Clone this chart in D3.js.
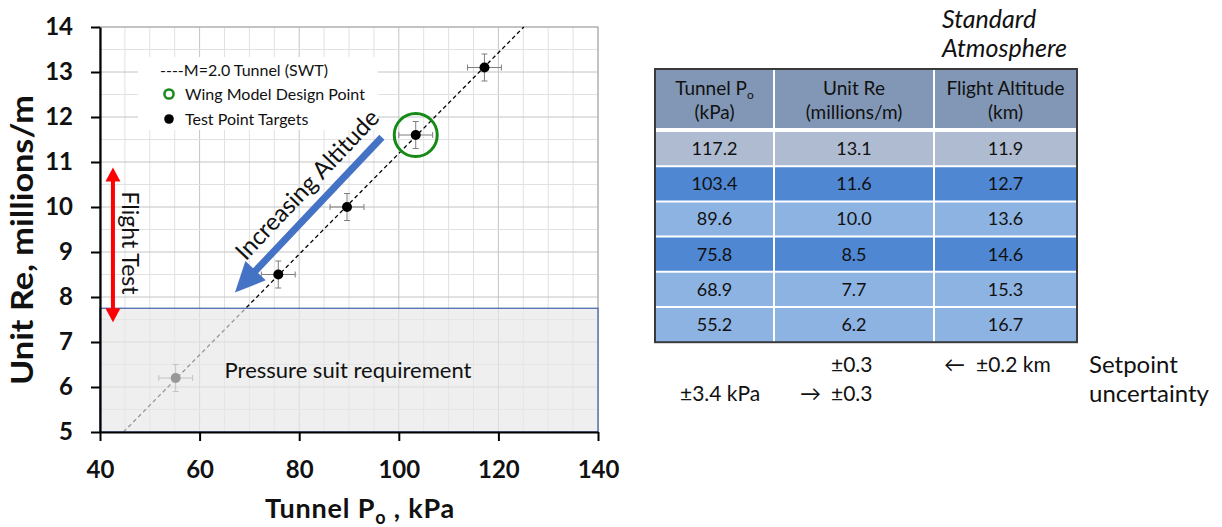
<!DOCTYPE html>
<html>
<head>
<meta charset="utf-8">
<script src="https://cdn.jsdelivr.net/npm/d3@7"></script>
<style>
  html, body { margin: 0; padding: 0; background: #fff; }
  svg { display: block; font-family: Lato, "Open Sans", sans-serif; }
</style>
</head>
<body>
<svg id="chart" width="1222" height="527"></svg>
<script>
// ---- Test matrix (table rows, top to bottom) ----
const tunnelP   = [117.2, 103.4, 89.6, 75.8, 68.9, 55.2];   // kPa
const unitRe    = [13.1, 11.6, 10.0, 8.5, 7.7, 6.2];        // millions/m
const altitude  = [11.9, 12.7, 13.6, 14.6, 15.3, 16.7];     // km
// rows shown as markers on the chart
const plottedRows = [0, 1, 2, 3, 5];
// wing model design point (row index)
const designRow = 1;

// setpoint uncertainty
const errP = 3.4;      // kPa
const errRe = 0.3;     // millions/m
const errAlt = 0.2;    // km

// M=2.0 tunnel operating line (end points, kPa / millions/m)
const tunnelLineP  = [44.7, 125.1];
const tunnelLineRe = [5.0, 14.0];

// pressure suit band (millions/m)
const suitRe = [5.0, 7.75];

// axis ticks
const pTicks  = [40, 60, 80, 100, 120, 140];
const reTicks = [5, 6, 7, 8, 9, 10, 11, 12, 13, 14];
const pMinor  = d3.range(40, 140.1, 5);
const reMinor = d3.range(5, 14.01, 0.5);

// annotation anchors in data units
const altArrow    = { from: [96.6, 11.55], to: [67.1, 8.1] };
const flightArrow = { p: 42.6, re: [10.88, 7.44] };

// table text
const headers = [["Tunnel P", "(kPa)"], ["Unit Re", "(millions/m)"], ["Flight Altitude", "(km)"]];
const rowFills = ["#aebbd0", "#4f87d2", "#8db3e3", "#4f87d2", "#8db3e3", "#8db3e3"];

const svg = d3.select("#chart");

const x = d3.scaleLinear().domain([40, 140]).range([100, 598]);
const y = d3.scaleLinear().domain([5, 14]).range([432, 27]);

const plot = svg.append("g");

// grid
plot.append("g").selectAll("line.vm").data(pMinor).join("line")
  .attr("x1", d => x(d)).attr("x2", d => x(d)).attr("y1", y(5)).attr("y2", y(14))
  .attr("stroke", d => d % 20 === 0 ? "#c4c4c4" : "#e1e1e1").attr("stroke-width", 1);
plot.append("g").selectAll("line.hm").data(reMinor).join("line")
  .attr("y1", d => y(d)).attr("y2", d => y(d)).attr("x1", x(40)).attr("x2", x(140))
  .attr("stroke", d => d % 1 === 0 ? "#c4c4c4" : "#e1e1e1").attr("stroke-width", 1);

// plot frame (top / right)
plot.append("rect").attr("x", x(40)).attr("y", y(14)).attr("width", x(140) - x(40)).attr("height", y(5) - y(14))
  .attr("fill", "none").attr("stroke", "#a6a6a6").attr("stroke-width", 1);

// legend background
const lg = plot.append("g");
lg.append("rect").attr("x", 138).attr("y", 57).attr("width", 240).attr("height", 73).attr("fill", "#fff");

// tunnel operating line
plot.append("line")
  .attr("x1", x(tunnelLineP[0])).attr("y1", y(tunnelLineRe[0]))
  .attr("x2", x(tunnelLineP[1])).attr("y2", y(tunnelLineRe[1]))
  .attr("stroke", "#000").attr("stroke-width", 1.3).attr("stroke-dasharray", "4,3");

// error bars + markers
const pts = plottedRows.map(i => ({ p: tunnelP[i], re: unitRe[i] }));
const eb = plot.append("g").attr("stroke", "#7f7f7f").attr("stroke-width", 1);
pts.forEach(d => {
  eb.append("line").attr("x1", x(d.p - errP)).attr("x2", x(d.p + errP)).attr("y1", y(d.re)).attr("y2", y(d.re));
  eb.append("line").attr("y1", y(d.re - errRe)).attr("y2", y(d.re + errRe)).attr("x1", x(d.p)).attr("x2", x(d.p));
  [d.p - errP, d.p + errP].forEach(v => eb.append("line").attr("x1", x(v)).attr("x2", x(v)).attr("y1", y(d.re) - 3).attr("y2", y(d.re) + 3));
  [d.re - errRe, d.re + errRe].forEach(v => eb.append("line").attr("y1", y(v)).attr("y2", y(v)).attr("x1", x(d.p) - 3).attr("x2", x(d.p) + 3));
});
plot.append("g").selectAll("circle").data(pts).join("circle")
  .attr("cx", d => x(d.p)).attr("cy", d => y(d.re)).attr("r", 5).attr("fill", "#000");

// design point ring
plot.append("circle").attr("cx", x(tunnelP[designRow])).attr("cy", y(unitRe[designRow])).attr("r", 21.5)
  .attr("fill", "none").attr("stroke", "#168a16").attr("stroke-width", 3);

// pressure suit band (translucent, greys out what lies beneath)
plot.append("rect")
  .attr("x", x(40)).attr("y", y(suitRe[1])).attr("width", x(140) - x(40)).attr("height", y(suitRe[0]) - y(suitRe[1]))
  .attr("fill", "rgb(231,231,231)").attr("fill-opacity", 0.66);
plot.append("rect")
  .attr("x", x(40)).attr("y", y(suitRe[1])).attr("width", x(140) - x(40)).attr("height", y(suitRe[0]) - y(suitRe[1]))
  .attr("fill", "none").attr("stroke", "#3f62aa").attr("stroke-width", 1.2);
plot.append("text").attr("x", x(89.8)).attr("y", y(6.38)).attr("dy", "0.35em")
  .attr("text-anchor", "middle").attr("font-size", 22).attr("fill", "#111").text("Pressure suit requirement");

// legend entries
lg.append("text").attr("x", 160).attr("y", 70).attr("dy", "0.35em").attr("font-size", 16).attr("fill", "#111")
  .text("----M=2.0 Tunnel (SWT)");
lg.append("circle").attr("cx", 169).attr("cy", 94).attr("r", 4.6).attr("fill", "none").attr("stroke", "#168a16").attr("stroke-width", 2.5);
lg.append("text").attr("x", 185).attr("y", 94).attr("dy", "0.35em").attr("font-size", 16).attr("fill", "#111")
  .text("Wing Model Design Point");
lg.append("circle").attr("cx", 169).attr("cy", 119).attr("r", 4.8).attr("fill", "#000");
lg.append("text").attr("x", 185).attr("y", 119).attr("dy", "0.35em").attr("font-size", 16).attr("fill", "#111")
  .text("Test Point Targets");

// increasing-altitude arrow
{
  const x1 = x(altArrow.from[0]), y1 = y(altArrow.from[1]);
  const x2 = x(altArrow.to[0]), y2 = y(altArrow.to[1]);
  const ang = Math.atan2(y2 - y1, x2 - x1);
  const headL = 30, headW = 14;
  const bx = x2 - headL * Math.cos(ang), by = y2 - headL * Math.sin(ang);
  const nx = -Math.sin(ang), ny = Math.cos(ang);
  plot.append("line").attr("x1", x1).attr("y1", y1).attr("x2", bx + 2 * Math.cos(ang)).attr("y2", by + 2 * Math.sin(ang))
    .attr("stroke", "#4472c4").attr("stroke-width", 7);
  plot.append("path")
    .attr("d", `M${x2},${y2}L${bx + nx * headW},${by + ny * headW}L${bx - nx * headW},${by - ny * headW}Z`)
    .attr("fill", "#4472c4");
  const deg = Math.atan2(y1 - y2, x1 - x2) * 180 / Math.PI;
  plot.append("text")
    .attr("transform", `translate(${x(81.6)},${y(10.5)}) rotate(${deg})`)
    .attr("text-anchor", "middle").attr("dy", "0.35em").attr("font-size", 24).attr("fill", "#111")
    .text("Increasing Altitude");
}

// flight test double arrow
{
  const ax = x(flightArrow.p), yt = y(flightArrow.re[0]), yb = y(flightArrow.re[1]);
  const hl = 14, hw = 7.5;
  plot.append("line").attr("x1", ax).attr("x2", ax).attr("y1", yt + hl - 1).attr("y2", yb - hl + 1)
    .attr("stroke", "#ff0000").attr("stroke-width", 4);
  plot.append("path").attr("d", `M${ax},${yt}L${ax - hw},${yt + hl}L${ax + hw},${yt + hl}Z`).attr("fill", "#ff0000");
  plot.append("path").attr("d", `M${ax},${yb}L${ax - hw},${yb - hl}L${ax + hw},${yb - hl}Z`).attr("fill", "#ff0000");
  plot.append("text").attr("transform", `translate(${x(46.1)},${y(9.2)}) rotate(90)`)
    .attr("text-anchor", "middle").attr("dy", "0.35em").attr("font-size", 23).attr("fill", "#111")
    .text("Flight Test");
}

// axes
const xAxis = svg.append("g").attr("transform", `translate(0,${y(5)})`)
  .call(d3.axisBottom(x).tickValues(pTicks).tickSize(9).tickPadding(20).tickSizeOuter(0));
const yAxis = svg.append("g").attr("transform", `translate(${x(40)},0)`)
  .call(d3.axisLeft(y).tickValues(reTicks).tickSize(9).tickPadding(18).tickSizeOuter(0));
[xAxis, yAxis].forEach(g => {
  g.select(".domain").attr("stroke", "#000").attr("stroke-width", 2.2);
  g.selectAll(".tick line").attr("stroke", "#000").attr("stroke-width", 2);
  g.selectAll(".tick text").attr("font-family", "Lato, sans-serif").attr("font-size", 24)
    .attr("font-weight", 700).attr("fill", "#111");
});

// axis titles
const xt = svg.append("text").attr("x", 360).attr("y", 518).attr("text-anchor", "middle")
  .attr("font-size", 27).attr("font-weight", 700).attr("letter-spacing", 0.8).attr("fill", "#111");
xt.append("tspan").text("Tunnel P");
xt.append("tspan").attr("font-size", 18).attr("dy", 6).text("o");
xt.append("tspan").attr("dy", -6).text(" , kPa");
svg.append("text").attr("transform", "translate(33,240) rotate(-90)").attr("text-anchor", "middle")
  .attr("font-size", 30).attr("font-weight", 700).attr("fill", "#111")
  .attr("textLength", 290).attr("lengthAdjust", "spacingAndGlyphs").text("Unit Re, millions/m");

// ---- table ----
const colX = [655, 774, 934, 1077];
const headTop = 69, headBot = 129, rowTop = 131, rowH = 35.2;
const tbl = svg.append("g");
tbl.append("rect").attr("x", colX[0]).attr("y", headTop).attr("width", colX[3] - colX[0]).attr("height", headBot - headTop).attr("fill", "#8197b5");
tbl.append("rect").attr("x", colX[0]).attr("y", headBot).attr("width", colX[3] - colX[0]).attr("height", rowTop - headBot).attr("fill", "#fff");
const rows = tunnelP.map((p, i) => ({ i, vals: [p.toFixed(1), unitRe[i].toFixed(1), altitude[i].toFixed(1)] }));
tbl.selectAll("rect.row").data(rows).join("rect").attr("class", "row")
  .attr("x", colX[0]).attr("y", d => rowTop + d.i * rowH).attr("width", colX[3] - colX[0]).attr("height", rowH)
  .attr("fill", d => rowFills[d.i]);
// row separators
tbl.selectAll("line.rs").data(d3.range(1, rows.length)).join("line")
  .attr("x1", colX[0]).attr("x2", colX[3]).attr("y1", d => rowTop + d * rowH).attr("y2", d => rowTop + d * rowH)
  .attr("stroke", "#fff").attr("stroke-width", 2);
tbl.append("line").attr("x1", colX[0]).attr("x2", colX[3]).attr("y1", headBot + 1).attr("y2", headBot + 1)
  .attr("stroke", "#fff").attr("stroke-width", 4);
// column separators
tbl.selectAll("line.cs").data([colX[1], colX[2]]).join("line")
  .attr("x1", d => d).attr("x2", d => d).attr("y1", headTop).attr("y2", rowTop + rows.length * rowH)
  .attr("stroke", "#fff").attr("stroke-width", 2);
tbl.append("rect").attr("x", colX[0]).attr("y", headTop).attr("width", colX[3] - colX[0])
  .attr("height", rowTop + rows.length * rowH - headTop).attr("fill", "none").attr("stroke", "#3a3a3a").attr("stroke-width", 2);

const colC = [0, 1, 2].map(j => (colX[j] + colX[j + 1]) / 2);
headers.forEach((h, j) => {
  const t1 = tbl.append("text").attr("x", colC[j]).attr("y", 95).attr("text-anchor", "middle")
    .attr("font-size", 19).attr("fill", "#111");
  t1.append("tspan").text(h[0]);
  if (j === 0) t1.append("tspan").attr("font-size", 12).attr("dy", 4).text("o");
  tbl.append("text").attr("x", colC[j]).attr("y", 119).attr("text-anchor", "middle")
    .attr("font-size", 19).attr("fill", "#111").text(h[1]);
});
rows.forEach(r => r.vals.forEach((v, j) => {
  tbl.append("text").attr("x", colC[j]).attr("y", rowTop + r.i * rowH + rowH / 2).attr("dy", "0.35em")
    .attr("text-anchor", "middle").attr("font-size", 18).attr("fill", "#111").text(v);
}));

// Standard Atmosphere caption
svg.append("text").attr("x", 942).attr("y", 28).attr("font-size", 25).attr("font-style", "italic").attr("fill", "#111").text("Standard");
svg.append("text").attr("x", 942).attr("y", 57).attr("font-size", 25).attr("font-style", "italic").attr("fill", "#111").text("Atmosphere");

// setpoint uncertainty notes
const note = (tx, ty, s, size) => svg.append("text").attr("x", tx).attr("y", ty).attr("font-size", size || 21).attr("fill", "#111").text(s);
note(831, 372, "\u00b1" + errRe.toFixed(1));
note(944, 372, "\u2190");
note(976, 372, "\u00b1" + errAlt.toFixed(1) + " km");
note(680, 401, "\u00b1" + errP.toFixed(1) + " kPa");
note(800, 401, "\u2192");
note(831, 401, "\u00b1" + errRe.toFixed(1));
note(1089, 373, "Setpoint", 24);
note(1089, 402, "uncertainty", 24);
</script>
</body>
</html>
